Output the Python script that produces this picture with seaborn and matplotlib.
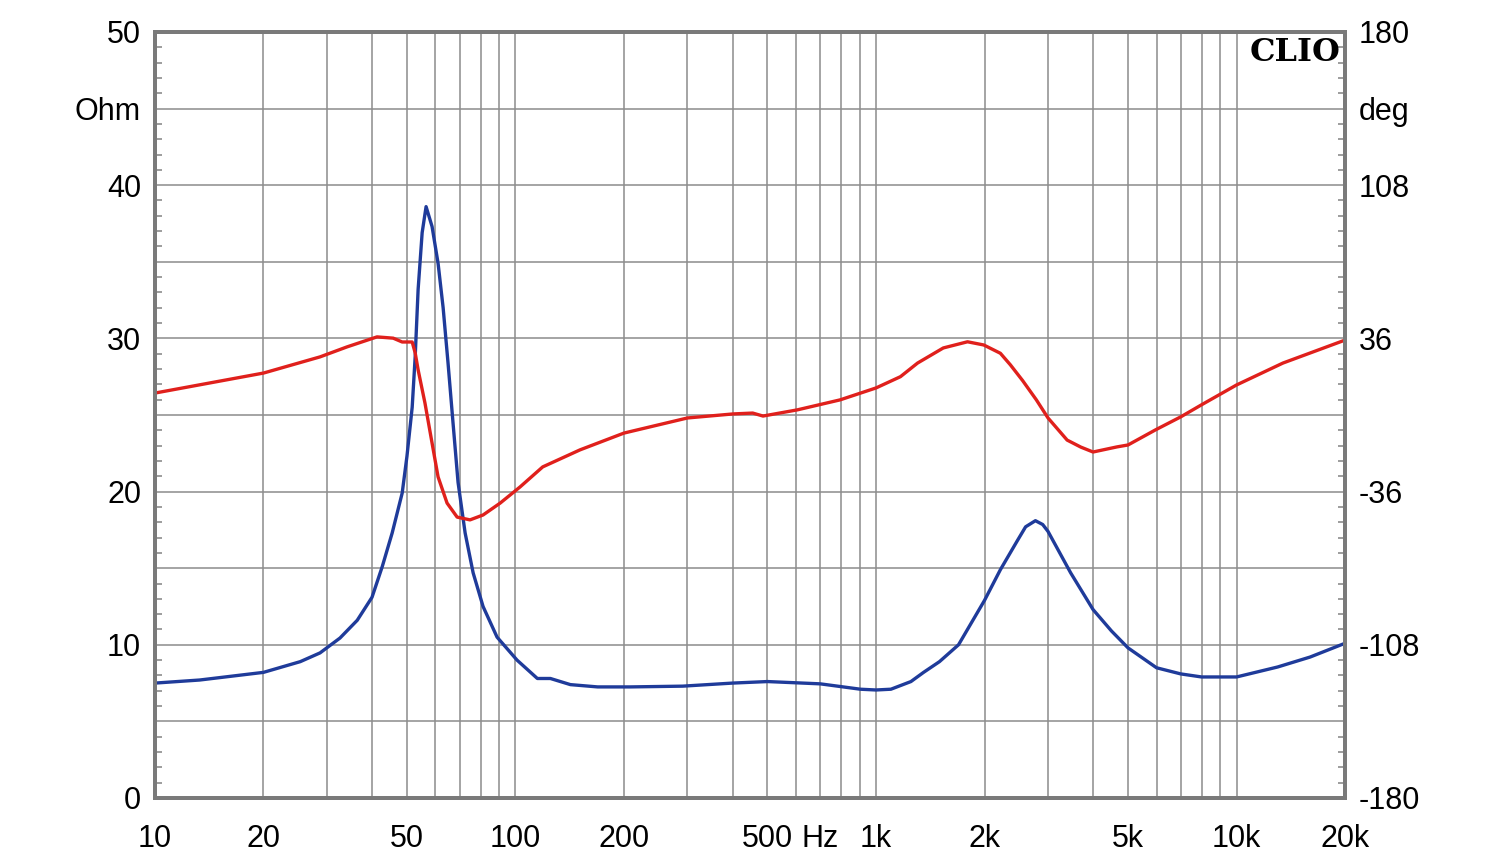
import numpy as np
import pandas as pd
import matplotlib
matplotlib.use("Agg")
import matplotlib.pyplot as plt
import matplotlib.ticker as mticker
import seaborn as sns

# Impedance magnitude (Ohm)
imp_freq = [10, 13.3, 20, 25.3, 28.7, 32.6, 36.4, 40, 42.7, 45.5, 48.5, 50, 51.7, 52.7,
            53.7, 55.1, 56.5, 58.7, 61.0, 63.0, 65.0, 67.1, 69.3, 72.5, 76.3, 81.3, 88.9,
            101, 115, 125, 142, 169, 208, 291, 400, 500, 701, 905, 1000, 1100, 1250,
            1355, 1500, 1694, 2000, 2213, 2467, 2600, 2768, 2900, 3000, 3466, 4000, 4500,
            5000, 6000, 7000, 8000, 10000, 13000, 16000, 20000]
imp_ohm = [7.5, 7.7, 8.2, 8.9, 9.47, 10.44, 11.6, 13.1, 15.1, 17.3, 19.9, 22.3, 25.5, 28.8,
           33.2, 36.9, 38.6, 37.3, 34.9, 32.0, 28.4, 24.5, 20.6, 17.3, 14.7, 12.5, 10.5,
           9.0, 7.8, 7.8, 7.4, 7.25, 7.25, 7.3, 7.5, 7.6, 7.45, 7.1, 7.05, 7.1, 7.6,
           8.2, 8.9, 10.0, 12.9, 14.9, 16.8, 17.7, 18.1, 17.85, 17.4, 14.7, 12.3, 10.9,
           9.8, 8.5, 8.1, 7.9, 7.9, 8.55, 9.2, 10.1]

# Phase (deg)
ph_freq = [10, 20, 28.7, 34.1, 41.3, 45.8, 48.5, 51.7, 52.7, 53.7, 56.1, 58.7, 61.0, 64.6,
           68.9, 74.8, 81.3, 90.7, 103, 119, 151, 200, 300, 402, 455, 486, 605, 795,
           1000, 1169, 1304, 1537, 1794, 1990, 2213, 2358, 2550, 2785, 3000, 3390,
           3700, 4000, 4660, 5000, 5960, 7000, 8000, 10000, 13450, 20000]
ph_deg = [10.3, 19.7, 27.3, 32.0, 36.7, 36.1, 34.3, 34.3, 29.2, 21.2, 5.6, -13.2, -29.1, -41.4,
          -48.0, -49.3, -47.0, -41.4, -33.8, -24.4, -16.4, -8.5, -1.4, 0.5, 0.9, -0.5, 2.4, 7.1,
          12.7, 18.0, 24.4, 31.5, 34.4, 32.9, 29.0, 23.6, 16.2, 7.1, -1.4, -11.8,
          -15.1, -17.4, -15.0, -14.1, -7.0, -0.9, 4.8, 14.1, 24.4, 35.2]

x_ticks = [10, 20, 50, 100, 200, 500, 700, 1000, 2000, 5000, 10000, 20000]
x_labels = ['10', '20', '50', '100', '200', '500', 'Hz', '1k', '2k', '5k', '10k', '20k']
ohm_ticks = [0, 5, 10, 15, 20, 25, 30, 35, 40, 45, 50]
ohm_labels = ['0', '', '10', '', '20', '', '30', '', '40', 'Ohm', '50']
deg_ticks = [-180, -108, -36, 36, 108, 144, 180]
deg_labels = ['-180', '-108', '-36', '36', '108', 'deg', '180']

imp = pd.DataFrame({'freq': imp_freq, 'ohm': imp_ohm})
ph = pd.DataFrame({'freq': ph_freq, 'deg': ph_deg})

sns.set_style("white")
plt.rcParams['font.family'] = ['Liberation Sans', 'DejaVu Sans']

grid_col = '#8c8c8c'
fig = plt.figure(figsize=(15, 8.64), dpi=100)
ax = fig.add_axes([0.1033, 0.0764, 0.7934, 0.8866])
ax2 = ax.twinx()

sns.lineplot(data=imp, x='freq', y='ohm', ax=ax, color='#1f3b9a', linewidth=2.4)
sns.lineplot(data=ph, x='freq', y='deg', ax=ax2, color='#e0201c', linewidth=2.4)

ax.set_xscale('log')
ax.set_xlim(10, 20000)
ax.set_ylim(0, 50)
ax2.set_ylim(-180, 180)

# vertical grid at 1..9 x decade
grid_x = [m * 10 ** d for d in range(1, 5) for m in range(1, 10) if 10 < m * 10 ** d < 20000]
for gx in grid_x:
    ax.axvline(gx, color=grid_col, lw=1.1, zorder=0)
for gy in ohm_ticks[1:-1]:
    ax.axhline(gy, color=grid_col, lw=1.1, zorder=0)

ax.xaxis.set_major_locator(mticker.FixedLocator(x_ticks))
ax.xaxis.set_major_formatter(mticker.FixedFormatter(x_labels))
ax.xaxis.set_minor_locator(mticker.NullLocator())
ax.set_yticks(ohm_ticks)
ax.set_yticklabels(ohm_labels)
ax.yaxis.set_minor_locator(mticker.MultipleLocator(1))
ax2.set_yticks(deg_ticks)
ax2.set_yticklabels(deg_labels)

ax.tick_params(axis='x', which='major', length=0, pad=19, labelsize=22, labelcolor='black')
ax.tick_params(axis='y', which='major', length=0, pad=10, labelsize=22, labelcolor='black')
ax.tick_params(axis='y', which='minor', length=5, width=1.2, direction='in',
               left=True, right=True, color=grid_col)
ax2.tick_params(axis='y', which='major', length=0, pad=10, labelsize=22, labelcolor='black')

ax.set_xlabel('')
ax.set_ylabel('')
ax2.set_ylabel('')
for a in (ax, ax2):
    for s in a.spines.values():
        s.set_color('#7a7a7a')
        s.set_linewidth(2.8)

ax.text(0.996, 0.993, 'CLIO', transform=ax.transAxes, ha='right', va='top',
        fontsize=23, fontweight='bold', family='DejaVu Serif', color='black')

fig.savefig('out.png', dpi=100)
